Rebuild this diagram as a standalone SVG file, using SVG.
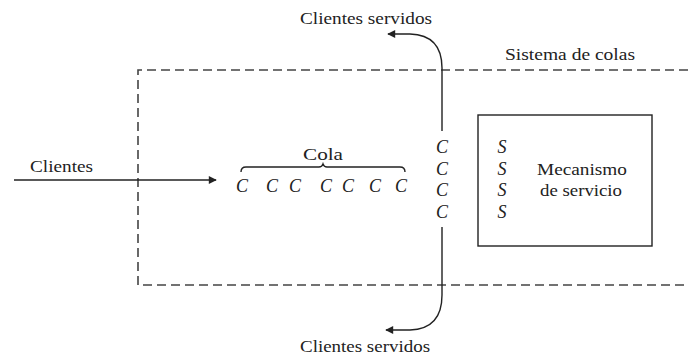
<svg xmlns="http://www.w3.org/2000/svg" width="688" height="356" viewBox="0 0 688 356">
  <style>
    .lbl { font-family: "Liberation Serif", "DejaVu Serif", serif; font-size: 16px; fill: #222; }
    .sym { font-family: "Liberation Serif", "DejaVu Serif", serif; font-size: 18px; font-style: italic; fill: #222; text-anchor: middle; }
    .ln { fill: none; stroke: #222; stroke-width: 1.4; }
    .dash { fill: none; stroke: #444; stroke-width: 1.6; stroke-dasharray: 9 5; }
  </style>
  <defs>
    <marker id="arrow" viewBox="0 0 10 10" refX="9" refY="5" markerWidth="10" markerHeight="8" markerUnits="userSpaceOnUse" orient="auto">
      <path d="M0,0 L10,5 L0,10 z" fill="#222"/>
    </marker>
  </defs>
  <rect width="688" height="356" fill="#fff"/>

  <!-- queueing system boundary (open to the right) -->
  <g id="sistema">
    <path class="dash" d="M688,70 H138 V285 H688"/>
    <text class="lbl" x="505" y="60" textLength="130" lengthAdjust="spacingAndGlyphs">Sistema de colas</text>
  </g>

  <g id="connectors">
    <!-- arriving customers -->
    <line class="ln" x1="14" y1="180" x2="216" y2="180" marker-end="url(#arrow)"/>
    <!-- served customers leaving upward -->
    <path class="ln" d="M442,131 V68 Q442,35 410,34 L388,34" marker-end="url(#arrow)"/>
    <!-- served customers leaving downward -->
    <path class="ln" d="M442,227 V295 Q442,329 410,330 L386,330" marker-end="url(#arrow)"/>
  </g>

  <g id="clientes">
    <text class="lbl" x="30" y="172" textLength="63" lengthAdjust="spacingAndGlyphs">Clientes</text>
  </g>

  <g id="cola">
    <text class="lbl" x="303" y="160" textLength="40" lengthAdjust="spacingAndGlyphs">Cola</text>
    <path class="ln" stroke-width="1.1" d="M241,172 Q241,167 246,167 H319 Q322,167 323,164 Q324,167 327,167 H400 Q405,167 405,172"/>
    <text class="sym" x="242" y="192">C</text>
    <text class="sym" x="272" y="192">C</text>
    <text class="sym" x="295" y="192">C</text>
    <text class="sym" x="326" y="192">C</text>
    <text class="sym" x="348" y="192">C</text>
    <text class="sym" x="375" y="192">C</text>
    <text class="sym" x="401" y="192">C</text>
  </g>

  <g id="en-servicio">
    <text class="sym" x="442" y="153">C</text>
    <text class="sym" x="442" y="175">C</text>
    <text class="sym" x="442" y="196">C</text>
    <text class="sym" x="442" y="218">C</text>
  </g>

  <g id="mecanismo">
    <rect class="ln" x="478" y="115" width="174" height="131"/>
    <text class="sym" x="502" y="153">S</text>
    <text class="sym" x="502" y="175">S</text>
    <text class="sym" x="502" y="196">S</text>
    <text class="sym" x="502" y="218">S</text>
    <text class="lbl" x="537" y="175" textLength="90" lengthAdjust="spacingAndGlyphs">Mecanismo</text>
    <text class="lbl" x="540" y="196" textLength="82" lengthAdjust="spacingAndGlyphs">de servicio</text>
  </g>

  <g id="servidos">
    <text class="lbl" x="300" y="24" textLength="132" lengthAdjust="spacingAndGlyphs">Clientes servidos</text>
    <text class="lbl" x="300" y="352" textLength="130" lengthAdjust="spacingAndGlyphs">Clientes servidos</text>
  </g>
</svg>
